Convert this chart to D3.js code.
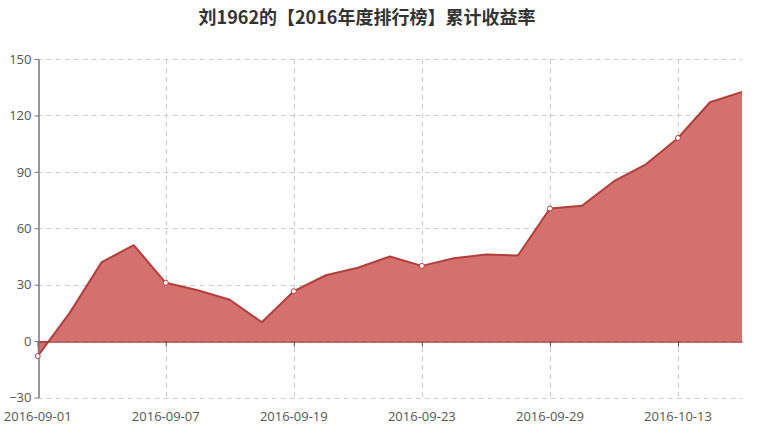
<!DOCTYPE html>
<html><head><meta charset="utf-8">
<script src="https://cdn.jsdelivr.net/npm/d3@7"></script>
<style>
html,body{margin:0;padding:0;background:#fff;}
svg{display:block;}
</style></head>
<body>
<svg id="chart" width="766" height="433"></svg>
<script>
const titleText = "刘1962的【2016年度排行榜】累计收益率";
const dates = ["2016-09-01","2016-09-02","2016-09-05","2016-09-06","2016-09-07","2016-09-08","2016-09-12","2016-09-14","2016-09-19","2016-09-20","2016-09-21","2016-09-22","2016-09-23","2016-09-26","2016-09-27","2016-09-28","2016-09-29","2016-09-30","2016-10-11","2016-10-12","2016-10-13","2016-10-14","2016-10-17"];
const returns = [-8, 15, 42, 51, 31, 27, 22, 10, 26.5, 35, 39, 45, 40, 44, 46, 45.5, 70.5, 72, 85, 94, 108, 127, 132.5];
const yTicks = [-30, 0, 30, 60, 90, 120, 150];
const labelEvery = 4;

(function () {
const svg = d3.select("#chart");
const gLeft = 37.7, gRight = 742, gTop = 59, gBottom = 397.5;

const x = d3.scalePoint().domain(dates).range([gLeft, gRight]);
const y = d3.scaleLinear().domain([-30, 150]).range([gBottom, gTop]);

const labelled = dates.filter((d, i) => i % labelEvery === 0);

// title
svg.append("text").attr("x", 367).attr("y", 24).attr("text-anchor", "middle")
  .attr("font-family", "'Noto Sans CJK SC', sans-serif").attr("font-weight", "bold")
  .attr("font-size", 18).attr("fill", "#333").text(titleText);

// horizontal grid
svg.append("g").selectAll("line").data(yTicks).join("line")
  .attr("x1", gLeft).attr("x2", gRight)
  .attr("y1", d => Math.round(y(d)) + 0.5).attr("y2", d => Math.round(y(d)) + 0.5)
  .attr("stroke", "#ccc").attr("stroke-dasharray", "5,4");

// vertical grid
svg.append("g").selectAll("line").data(labelled.slice(1)).join("line")
  .attr("x1", d => Math.round(x(d)) + 0.5).attr("x2", d => Math.round(x(d)) + 0.5)
  .attr("y1", gTop).attr("y2", gBottom)
  .attr("stroke", "#ccc").attr("stroke-dasharray", "5,4");

// area
const area = d3.area().x((d, i) => x(dates[i])).y0(y(0)).y1(d => y(d));
svg.append("path").datum(returns).attr("d", area).attr("fill", "#d4716e");

const line = d3.line().x((d, i) => x(dates[i])).y(d => y(d));
svg.append("path").datum(returns).attr("d", line)
  .attr("fill", "none").attr("stroke", "#b13f3c").attr("stroke-width", 2).attr("stroke-linejoin", "round");

// x axis on zero
const xAxis = d3.axisBottom(x).tickValues(labelled).tickSize(5).tickSizeOuter(0).tickFormat("");
const gx = svg.append("g").attr("transform", `translate(0,${Math.round(y(0)) + 0.5})`).call(xAxis);
gx.select(".domain").attr("stroke", "#9e3a38").attr("stroke-width", 1.5);
gx.selectAll(".tick line").attr("stroke", "#444");

// x labels at bottom
svg.append("g").selectAll("text").data(labelled).join("text")
  .attr("x", d => x(d)).attr("y", 421).attr("text-anchor", "middle")
  .attr("font-family", "'Open Sans', 'DejaVu Sans', sans-serif").attr("font-size", 13)
  .attr("fill", "#555").text(d => d);

// y axis
const yAxis = d3.axisLeft(y).tickValues(yTicks).tickSize(4).tickSizeOuter(0).tickPadding(3);
const gy = svg.append("g").attr("transform", `translate(${Math.round(gLeft) + 0.5},0)`).call(yAxis);
gy.select(".domain").attr("stroke", "#777").attr("stroke-width", 1.5);
gy.selectAll(".tick line").attr("stroke", "#777");
gy.selectAll(".tick text").attr("font-family", "'Open Sans', 'DejaVu Sans', sans-serif")
  .attr("font-size", 13).attr("fill", "#555");

// symbols at labelled points
svg.append("g").selectAll("circle").data(returns.map((v, i) => [i, v]).filter(d => d[0] % labelEvery === 0)).join("circle")
  .attr("cx", d => x(dates[d[0]])).attr("cy", d => y(d[1])).attr("r", 2.5)
  .attr("fill", "#fff").attr("stroke", "#b13f3c").attr("stroke-width", 1);
})();
</script>
</body></html>
